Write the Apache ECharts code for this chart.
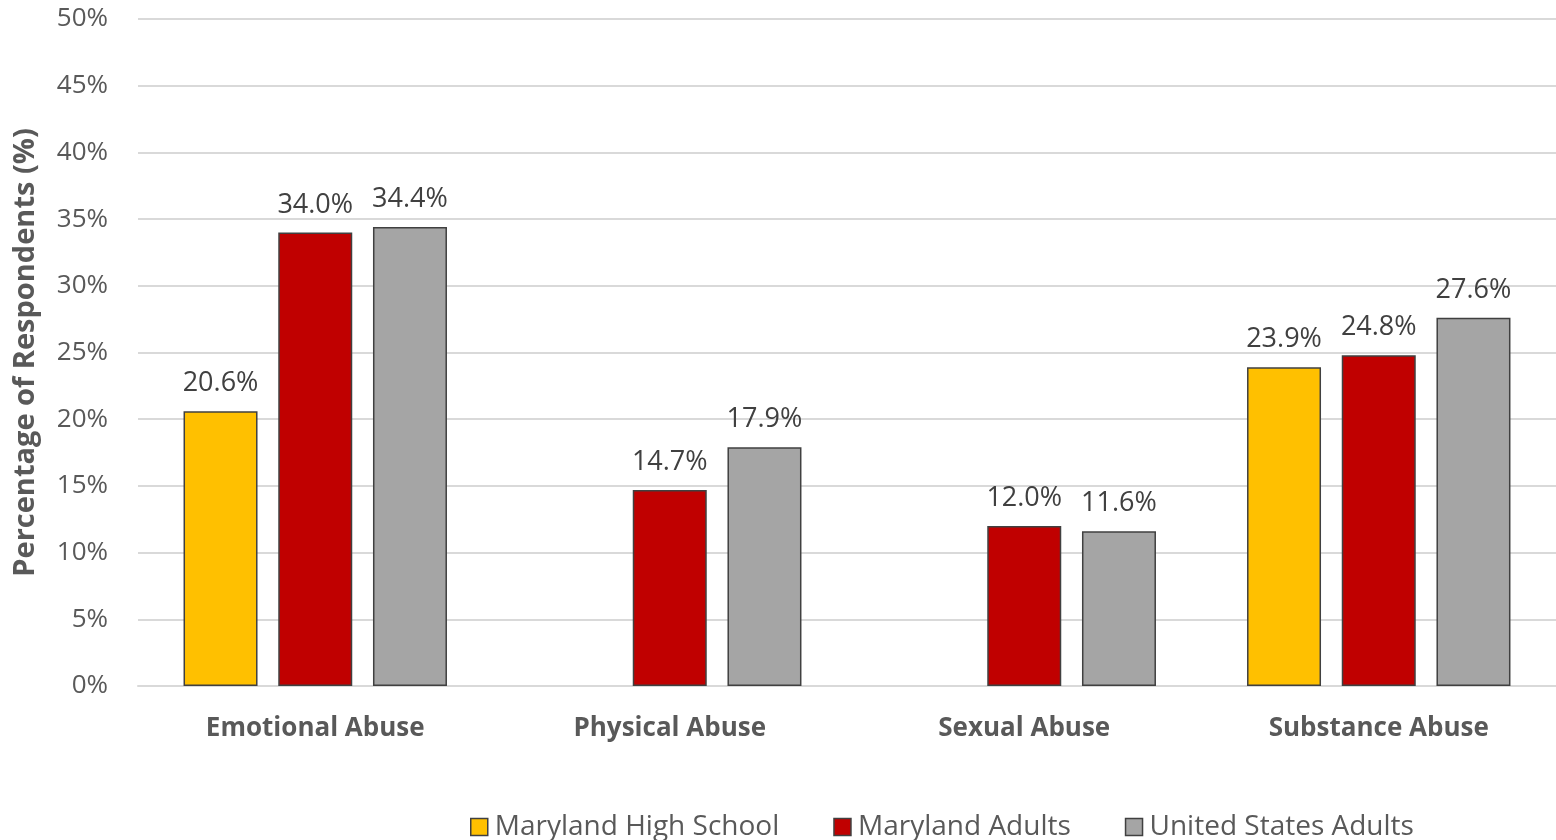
<!DOCTYPE html>
<html>
<head>
<meta charset="utf-8">
<script src="https://cdn.jsdelivr.net/npm/echarts@6/dist/echarts.min.js"></script>
<style>
  html, body { margin: 0; padding: 0; background: #fff; }
  #chart { width: 1556px; height: 840px; }
</style>
</head>
<body>
<div id="chart"></div>
<script>
// Categories of abuse
const categories = ['Emotional Abuse', 'Physical Abuse', 'Sexual Abuse', 'Substance Abuse'];

// Percentage of respondents per group (null = not reported)
const mdHighSchool = [20.6, null, null, 23.9];
const mdAdults = [34.0, 14.7, 12.0, 24.8];
const usAdults = [34.4, 17.9, 11.6, 27.6];

const seriesNames = ['Maryland High School', 'Maryland Adults', 'United States Adults'];
const seriesColors = ['#FFC000', '#C00000', '#A5A5A5'];

const yTicks = { min: 0, max: 50, interval: 5 };

const FONT = '"Open Sans", "Noto Sans", sans-serif';
const TEXT = '#595959';

const chart = echarts.init(document.getElementById('chart'));

function barSeries(name, data, color) {
  return {
    name: name,
    type: 'bar',
    data: data,
    barWidth: 74,
    barGap: '28%',
    itemStyle: { color: color, borderColor: '#404040', borderWidth: 1.5 },
    label: {
      show: true,
      position: 'top',
      distance: 14,
      formatter: p => p.value.toFixed(1) + '%',
      color: '#404040',
      fontFamily: FONT,
      fontSize: 27
    }
  };
}

chart.setOption({
  animation: false,
  textStyle: { fontFamily: FONT },
  grid: { left: 138, right: 0, top: 19, bottom: 154, containLabel: false },
  legend: {
    top: 808,
    left: 465,
    itemWidth: 17,
    itemHeight: 17,
    itemGap: 54,
    icon: 'rect',
    itemStyle: { borderColor: '#404040', borderWidth: 1.5 },
    textStyle: { color: TEXT, fontSize: 28, fontFamily: FONT, padding: [0, 0, 0, 2] },
    data: seriesNames
  },
  xAxis: {
    type: 'category',
    data: categories,
    axisLine: { show: true, lineStyle: { color: '#D9D9D9', width: 2 } },
    axisTick: { show: false },
    axisLabel: { color: TEXT, fontSize: 26, fontWeight: 'bold', margin: 30, fontFamily: FONT }
  },
  yAxis: {
    type: 'value',
    min: yTicks.min,
    max: yTicks.max,
    interval: yTicks.interval,
    name: 'Percentage of Respondents (%)',
    nameLocation: 'middle',
    nameGap: 98,
    nameRotate: 90,
    nameTextStyle: { color: TEXT, fontSize: 29, fontWeight: 'bold', fontFamily: FONT },
    axisLine: { show: false },
    axisTick: { show: false },
    axisLabel: { color: TEXT, fontSize: 26, margin: 30, formatter: v => v + '%', fontFamily: FONT },
    splitLine: { lineStyle: { color: '#D9D9D9', width: 2 } }
  },
  series: [
    barSeries(seriesNames[0], mdHighSchool, seriesColors[0]),
    barSeries(seriesNames[1], mdAdults, seriesColors[1]),
    barSeries(seriesNames[2], usAdults, seriesColors[2])
  ]
});
</script>
</body>
</html>
